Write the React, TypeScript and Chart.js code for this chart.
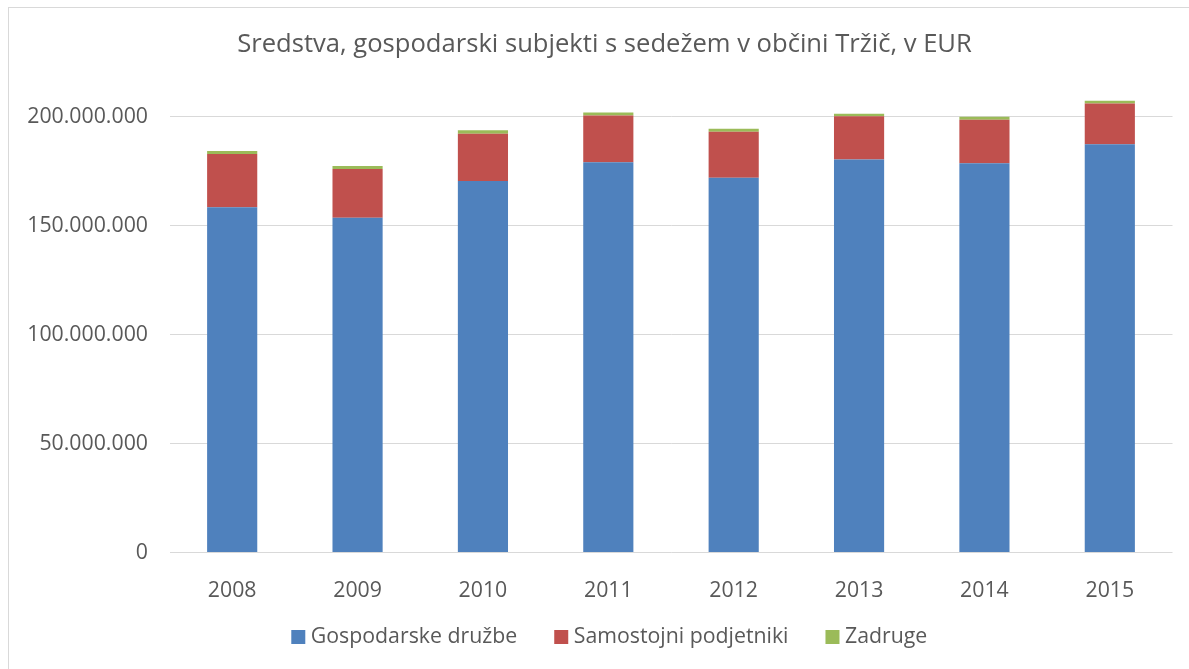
import React, { useEffect, useRef } from 'react';
import { Chart, registerables } from 'chart.js';

Chart.register(...registerables);

const categories = ['2008', '2009', '2010', '2011', '2012', '2013', '2014', '2015'];
const seriesLabels = ['Gospodarske družbe', 'Samostojni podjetniki', 'Zadruge'];
const gospodarskeDruzbe = [158400000, 153600000, 170500000, 179100000, 172000000, 180400000, 178600000, 187300000];
const samostojniPodjetniki = [24500000, 22400000, 21700000, 21400000, 21100000, 19800000, 20000000, 18700000];
const zadruge = [1400000, 1400000, 1600000, 1400000, 1400000, 1200000, 1400000, 1300000];
const yTickValues = [0, 50000000, 100000000, 150000000, 200000000];
const yMax = 210000000;
const titleText = 'Sredstva, gospodarski subjekti s sedežem v občini Tržič, v EUR';

const FONT = '"Open Sans", sans-serif';
const TEXT = '#595959';
const COLORS = ['#4F81BD', '#C0504D', '#9BBB59'];
const TICK_SIZE = 21.3;

const fmt = (v: number) => String(v).replace(/\B(?=(\d{3})+(?!\d))/g, '.');

const titleLegendPlugin = {
  id: 'titleLegend',
  afterDraw(chart: any) {
    const ctx = chart.ctx;
    ctx.save();
    // title
    ctx.font = `25.6px ${FONT}`;
    ctx.fillStyle = TEXT;
    ctx.textAlign = 'center';
    ctx.textBaseline = 'middle';
    ctx.fillText(titleText, 604.5, 45);
    // legend
    const ds = chart.data.datasets;
    ctx.font = `${TICK_SIZE}px ${FONT}`;
    const box = 14;
    const gap = 5.5;
    const spacing = 37;
    const widths = ds.map((d: any) => box + gap + ctx.measureText(d.label).width);
    const total = widths.reduce((a: number, b: number) => a + b, 0) + spacing * (ds.length - 1);
    let x = 609.3 - total / 2;
    const baseline = chart.chartArea.bottom + 90.8;
    ds.forEach((d: any, i: number) => {
      ctx.fillStyle = d.backgroundColor;
      ctx.fillRect(x, baseline - 13.3, box, box);
      ctx.fillStyle = TEXT;
      ctx.textBaseline = 'alphabetic';
      ctx.textAlign = 'left';
      ctx.fillText(d.label, x + box + gap, baseline);
      x += widths[i] + spacing;
    });
    ctx.restore();
  },
};

export default function App() {
  const ref = useRef<HTMLCanvasElement | null>(null);

  useEffect(() => {
    if (!ref.current) return;
    const chart = new Chart(ref.current, {
      type: 'bar',
      data: {
        labels: categories,
        datasets: [
          { label: seriesLabels[0], data: gospodarskeDruzbe, backgroundColor: COLORS[0], borderWidth: 0 },
          { label: seriesLabels[1], data: samostojniPodjetniki, backgroundColor: COLORS[1], borderWidth: 0 },
          { label: seriesLabels[2], data: zadruge, backgroundColor: COLORS[2], borderWidth: 0 },
        ],
      },
      options: {
        responsive: false,
        animation: false,
        datasets: { bar: { categoryPercentage: 0.4, barPercentage: 1 } },
        layout: { padding: { left: 0, right: 16.5, top: 94.9, bottom: 56.5 } },
        plugins: {
          legend: { display: false },
          tooltip: { enabled: false },
          title: { display: false },
        },
        scales: {
          x: {
            stacked: true,
            grid: { display: false },
            border: { display: false },
            ticks: { color: TEXT, font: { family: FONT, size: TICK_SIZE }, padding: 17.5, maxRotation: 0, autoSkip: false },
            afterFit: (s: any) => { s.height = 60; },
          },
          y: {
            stacked: true,
            min: 0,
            max: yMax,
            afterBuildTicks: (axis: any) => { axis.ticks = yTickValues.map((v) => ({ value: v })); },
            grid: { color: '#d9d9d9', drawTicks: false, lineWidth: 1 },
            border: { display: false },
            ticks: { color: TEXT, font: { family: FONT, size: TICK_SIZE }, padding: 21.5, callback: (v: any) => fmt(Number(v)) },
            afterFit: (s: any) => { s.width = 169.5; },
          },
        },
      } as any,
      plugins: [titleLegendPlugin],
    });
    return () => chart.destroy();
  }, []);

  return (
    <div style={{ position: 'fixed', left: 0, top: 0, width: 1189, height: 669, overflow: 'hidden', background: '#fff' }}>
      <div style={{ position: 'absolute', left: 8, top: 7, width: 1300, height: 700, borderLeft: '1px solid #d9d9d9', borderTop: '1px solid #d9d9d9' }} />
      <canvas ref={ref} width={1189} height={669} style={{ position: 'absolute', left: 0, top: 0, width: 1189, height: 669 }} />
    </div>
  );
}
